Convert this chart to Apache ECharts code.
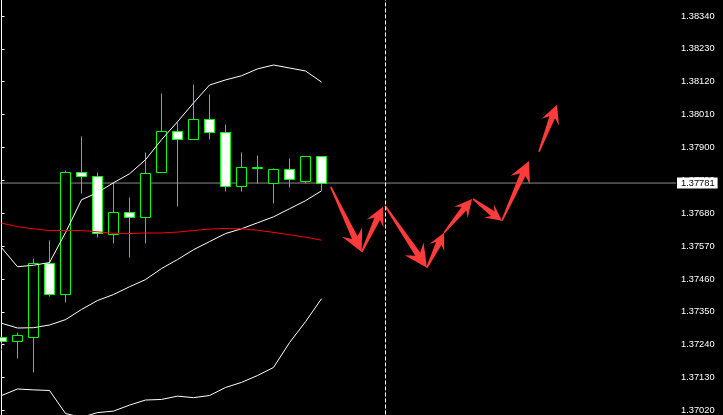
<!DOCTYPE html>
<html><head><meta charset="utf-8">
<script src="https://cdn.jsdelivr.net/npm/echarts@6/dist/echarts.min.js"></script>
<style>html,body{margin:0;padding:0;background:#000;}#c{width:723px;height:415px;}</style>
</head><body><div id="c"></div>
<script>
// ---- data ----
const barIndex   = [0,1,2,3,4,5,6,7,8,9,10,11,12,13,14,15,16,17,18,19,20];
const candleOpen = [1.37267,1.37254,1.37267,1.37515,1.37411,1.37819,1.37805,1.37612,1.37685,1.37668,1.37819,1.37956,1.37929,1.37996,1.37952,1.37772,1.37835,1.37782,1.37829,1.37789,1.37872];
const candleHigh = [1.37267,1.37284,1.37531,1.37592,1.37825,1.37939,1.37819,1.37785,1.37735,1.37886,1.38083,1.37986,1.38113,1.38079,1.37979,1.37886,1.37876,1.37832,1.37866,1.37872,1.37872];
const candleLow  = [1.37217,1.37194,1.37150,1.37404,1.37384,1.37749,1.37602,1.37581,1.37535,1.37581,1.37819,1.37705,1.37929,1.37929,1.37755,1.37755,1.37782,1.37715,1.37769,1.37782,1.37759];
const candleClose= [1.37254,1.37274,1.37515,1.37411,1.37819,1.37805,1.37615,1.37685,1.37668,1.37815,1.37956,1.37929,1.37996,1.37952,1.37772,1.37835,1.37835,1.37829,1.37795,1.37872,1.37781];

const bandUpper  = [1.37565,1.37501,1.37506,1.37515,1.37615,1.37725,1.37749,1.37782,1.37812,1.37859,1.37926,1.37986,1.38049,1.38109,1.38126,1.38140,1.38163,1.38176,1.38166,1.38156,1.38119];
const bandMiddle = [1.37312,1.37296,1.37297,1.37306,1.37324,1.37358,1.37388,1.37408,1.37434,1.37458,1.37495,1.37525,1.37558,1.37585,1.37612,1.37628,1.37648,1.37668,1.37695,1.37722,1.37755];
const bandLower  = [1.37070,1.37092,1.37089,1.37087,1.37010,1.36997,1.37013,1.37018,1.37038,1.37055,1.37057,1.37068,1.37063,1.37070,1.37097,1.37114,1.37137,1.37164,1.37247,1.37317,1.37394];
const maRed      = [1.37647,1.37635,1.37628,1.37622,1.37622,1.37622,1.37618,1.37613,1.37612,1.37614,1.37614,1.37617,1.37622,1.37627,1.37629,1.37628,1.37623,1.37616,1.37608,1.37600,1.37590];

// forecast arrows: [bar index, price] from -> to
const arrowFrom = [[20.58,1.37768],[22.51,1.37550],[23.97,1.37705],[26.59,1.37498],[27.66,1.37615],[29.47,1.37728],[31.28,1.37655],[33.59,1.37886]];
const arrowTo   = [[22.51,1.37550],[23.84,1.37702],[26.59,1.37498],[27.66,1.37615],[29.41,1.37728],[31.28,1.37655],[32.97,1.37855],[34.72,1.38043]];

const separatorIndex = [0, 24];
const currentPrice = 1.37781;
const yTickLabels = ['1.37020','1.37130','1.37240','1.37350','1.37460','1.37570','1.37680','1.37790','1.37900','1.38010','1.38120','1.38230','1.38340'];

// ---- chart ----
const X_MIN = -0.09375, X_MAX = 42.15625;
const yTicks = yTickLabels.map(Number);
const chart = echarts.init(document.getElementById('c'), null, {renderer:'canvas'});

function renderCandle(params, api) {
  const i = api.value(0), o = api.value(1), c = api.value(2), l = api.value(3), h = api.value(4);
  const po = api.coord([i, o]), pc = api.coord([i, c]), pl = api.coord([i, l]), ph = api.coord([i, h]);
  const x = Math.floor(po[0]) + 0.5;
  const yT = Math.round(Math.min(po[1], pc[1])) + 0.5;
  const yB = Math.round(Math.max(po[1], pc[1])) + 0.5;
  const yH = Math.round(ph[1]) + 0.5, yL = Math.round(pl[1]) + 0.5;
  const half = 5;
  return {type:'group', children:[
    {type:'line', shape:{x1:x, y1:yH, x2:x, y2:yL}, style:{stroke:'#00ff00', lineWidth:1}},
    {type:'rect', shape:{x:x-half, y:yT, width:2*half, height:Math.max(yB-yT, 1)},
     style:{fill: c < o ? '#ffffff' : '#000000', stroke:'#00ff00', lineWidth:1}}
  ]};
}

function renderArrow(params, api) {
  const s = api.coord([api.value(0), api.value(1)]);
  const e = api.coord([api.value(2), api.value(3)]);
  const dx = e[0]-s[0], dy = e[1]-s[1];
  const L = Math.hypot(dx, dy);
  const ux = dx/L, uy = dy/L, nx = -uy, ny = ux;
  const hl = 10 + 0.17*L, hw = hl*0.5;
  const P = (t, w) => [s[0] + ux*t + nx*w, s[1] + uy*t + ny*w];
  const pts = [P(0,0.8), P(L-hl*0.72,3), P(L-hl,hw), P(L,0), P(L-hl,-hw), P(L-hl*0.72,-3), P(0,-0.8)];
  return {type:'polygon', shape:{points:pts}, style:{fill:'#ff3b3b'}};
}

function bandSeries(vals, color) {
  return {type:'line', data: vals.map((v,k)=>[barIndex[k], v]), symbol:'none', showSymbol:false,
    lineStyle:{color, width:1}, z:3, silent:true, animation:false};
}

const candleData = barIndex.map((b,k)=>[b, candleOpen[k], candleClose[k], candleLow[k], candleHigh[k]]);
const arrowData = arrowFrom.map((f,k)=>[f[0], f[1], arrowTo[k][0], arrowTo[k][1]]);

chart.setOption({
  backgroundColor:'#000000',
  animation:false,
  grid:{left:0, right:47, top:0, bottom:0},
  xAxis:{type:'value', min:X_MIN, max:X_MAX, show:false},
  yAxis:{type:'value', position:'right', min:1.370066, max:1.383935, scale:true,
    axisLine:{show:true, lineStyle:{color:'#ffffff', width:1}},
    axisTick:{show:true, customValues:yTicks, length:3, lineStyle:{color:'#ffffff'}},
    axisLabel:{show:true, customValues:yTicks, formatter:v=>v.toFixed(5), color:'#ffffff',
      fontSize:9.3, fontFamily:'Liberation Sans', margin:5},
    splitLine:{show:false}},
  series:[
    {type:'line', data:[[X_MIN, currentPrice],[X_MAX, currentPrice]], z:1, silent:true, symbol:'none',
     lineStyle:{color:'#8c8c8c', width:1}, clip:false,
     endLabel:{show:true, distance:1, formatter: ()=>currentPrice.toFixed(5),
       backgroundColor:'#ffffff', color:'#000000', fontSize:9.3, fontFamily:'Liberation Sans',
       lineHeight:10, padding:[1,3,0,4]},
     markLine:{symbol:'none', silent:true, animation:false,
       data: separatorIndex.map(s=>({xAxis:s, lineStyle:{color:'#ffffff', type:[4,2], width:1}, label:{show:false}}))}},
    {type:'custom', renderItem:renderCandle, data:candleData, encode:{x:0, y:[1,2,3,4]}, z:2, clip:true, silent:true},
    bandSeries(bandUpper, '#ffffff'),
    bandSeries(bandMiddle, '#ffffff'),
    bandSeries(bandLower, '#ffffff'),
    bandSeries(maRed, '#ff0000'),
    {type:'custom', renderItem:renderArrow, data:arrowData, encode:{x:[0,2], y:[1,3]}, z:4, clip:true, silent:true}
  ]
});
</script>
</body></html>
